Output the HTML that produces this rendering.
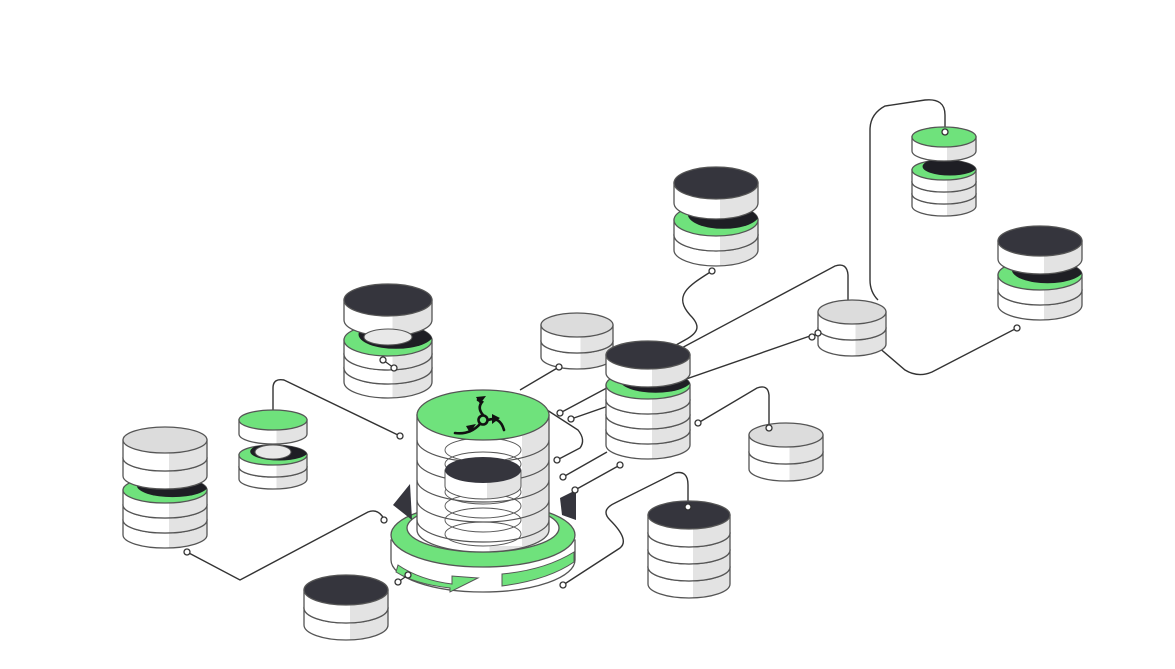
<!DOCTYPE html>
<html><head><meta charset="utf-8"><style>
html,body{margin:0;padding:0;background:#fff;}
svg{display:block;}
</style></head><body>
<svg id="s" width="1175" height="669" viewBox="0 0 1175 669" xmlns="http://www.w3.org/2000/svg">
<defs>
<linearGradient id="side" x1="0" x2="1" y1="0" y2="0">
<stop offset="0" stop-color="#fff"/><stop offset="0.55" stop-color="#fff"/><stop offset="0.55" stop-color="#e3e3e3"/><stop offset="1" stop-color="#e3e3e3"/>
</linearGradient>
</defs>
<g id="lines" fill="none" stroke="#333" stroke-width="1.4"></g>
<g id="objs"></g>
<g id="dots"></g>
</svg>
<script>
const NS="http://www.w3.org/2000/svg";
const G='#6fe27c',D='#35353d',GR='#dcdcdc',ST='#555';
const objs=document.getElementById('objs'),lines=document.getElementById('lines'),dots=document.getElementById('dots');
function el(p,tag,a){const e=document.createElementNS(NS,tag);for(const k in a)e.setAttribute(k,a[k]);p.appendChild(e);return e;}
function disk(cx,y,rx,ry,h,top){
 el(objs,'path',{d:`M${cx-rx},${y} L${cx-rx},${y+h} A${rx},${ry} 0 0 0 ${cx+rx},${y+h} L${cx+rx},${y} Z`,fill:'url(#side)',stroke:ST,'stroke-width':1.3});
 el(objs,'ellipse',{cx:cx,cy:y,rx:rx,ry:ry,fill:top,stroke:ST,'stroke-width':1.3});
}
let cid=0;
function gapTop(cx,y,rx,ry){
 cid++;
 const cp=el(objs,'clipPath',{id:'c'+cid});el(cp,'ellipse',{cx:cx,cy:y,rx:rx,ry:ry});
 el(objs,'ellipse',{cx:cx+rx*0.18,cy:y-ry*0.35,rx:rx*0.85,ry:ry*0.9,fill:'#1e1e24','clip-path':`url(#c${cid})`});
}
function stack(cx,rx,ry,upper,lower){
 if(lower&&lower.length){
  for(let i=lower.length-1;i>=0;i--){const d=lower[i];disk(cx,d[0],rx,ry,d[1],i==0?(d[2]||G):'#fff');}
  if(lower[0][2]!==GR) gapTop(cx,lower[0][0],rx,ry);
 }
 for(let i=upper.length-1;i>=0;i--){const d=upper[i];disk(cx,d[0],rx,ry,d[1],i==0?d[2]:'#fff');}
}
function line(d){el(lines,'path',{d:d});}
function dot(x,y){el(dots,'circle',{cx:x,cy:y,r:3,fill:'#fff',stroke:'#333','stroke-width':1.3});}
function pair(x1,y1,x2,y2){el(dots,'line',{x1:x1,y1:y1,x2:x2,y2:y2,stroke:'#333','stroke-width':1.3});dot(x1,y1);dot(x2,y2);}

line('M273,412 L273,388 Q273,378 284,380 L400,436');dot(400,436);
line('M187,552 L240,580 L368,512 Q378,508 384,519');dot(187,552);dot(384,520);
line('M712,271 C690,285 672,295 690,315 C700,325 700,332 685,340 L640,365');dot(712,271);
line('M559,367 L520,390');dot(559,367);
line('M560,413 L835,266 Q847,262 848,275 L848,300');dot(560,413);
line('M571,419 L810,336');dot(571,419);
line('M547,410 L578,430 Q586,440 580,448 L557,460');dot(557,460);
line('M563,477 L607,452');dot(563,477);
line('M575,490 L620,465');dot(575,490);dot(620,465);
line('M563,585 L620,548 Q630,540 610,520 Q600,510 615,503 L675,473 Q688,470 688,485 L688,507');dot(563,585);dot(688,507);
line('M698,423 L757,388 Q768,384 769,395 L769,428');dot(698,423);dot(769,428);
line('M870,340 L905,370 Q918,378 932,372 L1017,328');dot(1017,328);
line('M878,300 Q870,292 870,280 L870,130 Q870,114 885,106 L925,100 Q945,98 945,115 L945,132');dot(945,132);
pair(383,360,394,368);pair(398,582,408,575);pair(812,337,818,333);

stack(165,42,13,[[440,18,GR],[458,18]],[[490,15],[505,15],[520,15]]);
stack(273,34,10,[[420,14,G]],[[455,12],[467,12]]);
el(objs,'ellipse',{cx:273,cy:452,rx:18,ry:7,fill:'#e8e8e8',stroke:ST});
stack(388,44,16,[[300,20,D]],[[340,14],[354,14],[368,14]]);
el(objs,'ellipse',{cx:388,cy:337,rx:24,ry:8,fill:'#e8e8e8',stroke:ST});
stack(577,36,12,[[325,16,GR],[341,16]],[]);
stack(648,42,14,[[355,18,D]],[[385,15],[400,15],[415,15],[430,15]]);
stack(716,42,16,[[183,20,D]],[[220,15],[235,15]]);
stack(852,34,12,[[312,16,GR],[328,16]],[]);
stack(944,32,10,[[137,14,G]],[[170,12],[182,12],[194,12]]);
stack(1040,42,15,[[241,18,D]],[[275,15],[290,15]]);
stack(786,37,12,[[435,17,GR],[452,17]],[]);
stack(689,41,14,[[515,18,D],[533,17],[550,17],[567,17]],[]);
stack(346,42,15,[[590,18,D],[608,17]],[]);

const cx=483;
el(objs,'path',{d:`M391,540 L391,560 A92,32 0 0 0 575,560 L575,540 Z`,fill:'#fff',stroke:ST,'stroke-width':1.3});
el(objs,'ellipse',{cx:cx,cy:535,rx:92,ry:32,fill:G,stroke:ST,'stroke-width':1.3});
el(objs,'ellipse',{cx:cx,cy:528,rx:76,ry:24,fill:'#fff',stroke:ST,'stroke-width':1.3});
el(objs,'path',{d:'M393,505 L410,484 L412,520 Z',fill:D});
el(objs,'path',{d:'M560,498 L576,490 L576,520 L562,515 Z',fill:D});
el(objs,'path',{d:'M398,565 Q420,580 452,584 L452,576 L478,578 L450,592 L450,588 Q415,584 396,572 Z',fill:G,stroke:ST,'stroke-width':1});
el(objs,'path',{d:'M502,574 Q545,570 574,552 L574,562 Q548,580 502,586 Z',fill:G,stroke:ST,'stroke-width':1});
el(objs,'path',{d:`M417,415 L417,530 A66,22 0 0 0 549,530 L549,415 Z`,fill:'url(#side)',stroke:ST,'stroke-width':1.3});
el(objs,'rect',{x:444,y:432,width:78,height:114,fill:'#fff'});
for(let y=440;y<=530;y+=20){el(objs,'path',{d:`M417,${y} A66,22 0 0 0 549,${y}`,fill:'none',stroke:ST,'stroke-width':1.2});}
for(let y=450;y<=540;y+=14){el(objs,'ellipse',{cx:483,cy:y,rx:38,ry:12,fill:'none',stroke:ST,'stroke-width':0.9});}
el(objs,'path',{d:'M445,470 L445,486 A38,13 0 0 0 521,486 L521,470 Z',fill:'url(#side)',stroke:ST});
el(objs,'ellipse',{cx:483,cy:470,rx:38,ry:13,fill:D});
el(objs,'ellipse',{cx:cx,cy:415,rx:66,ry:25,fill:G,stroke:ST,'stroke-width':1.3});
const ic=el(objs,'g',{fill:'none',stroke:'#111','stroke-width':2.6,'stroke-linecap':'round'});
el(ic,'circle',{cx:483,cy:420,r:4.5});
el(ic,'path',{d:'M483,415 Q477,408 482,402 L478,400'});
el(ic,'path',{d:'M480,424 Q470,435 455,433'});
el(ic,'path',{d:'M488,420 Q500,416 504,430'});
el(objs,'path',{d:'M476,397 L486,396 L480,404 Z',fill:'#111'});
el(objs,'path',{d:'M466,426 L476,424 L470,433 Z',fill:'#111'});
el(objs,'path',{d:'M492,414 L500,418 L492,424 Z',fill:'#111'});
</script>
</body></html>
